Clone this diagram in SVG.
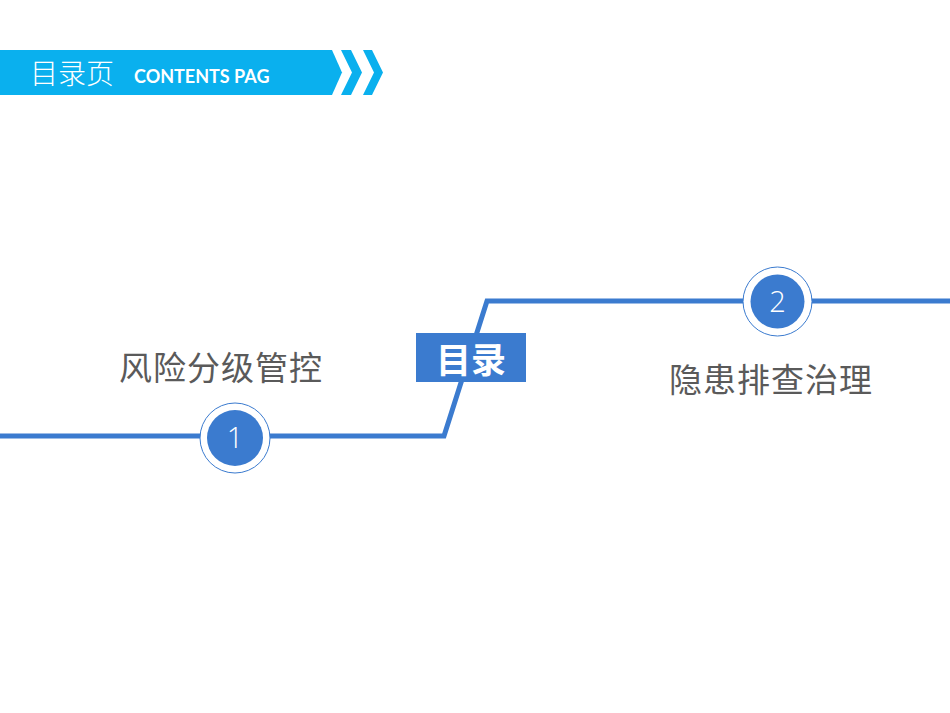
<svg xmlns="http://www.w3.org/2000/svg" width="950" height="713" viewBox="0 0 950 713">
<style>
.ban{fill:#0AB0EE}
.line{fill:none;stroke:#3B7BCF;stroke-width:5;stroke-linejoin:miter}
.ring{fill:#fff;stroke:#3B7BCF;stroke-width:1}
.dot{fill:#3B7BCF}
.num{font-family:"Open Sans","Liberation Sans",sans-serif;font-weight:300;font-size:29px;fill:#fff;text-anchor:middle}
.lab{font-family:"Noto Sans CJK SC","Noto Sans",sans-serif;font-size:33px;fill:#5a5a5a;text-anchor:middle;letter-spacing:1px}
</style>
<rect width="950" height="713" fill="#fff"/>
<g id="header">
<polygon class="ban" points="0,50 332,50 342,72.5 332,95 0,95"/>
<polygon class="ban" points="341,50 351,50 362,72.5 351,95 341,95 352,72.5"/>
<polygon class="ban" points="363,50 372,50 383,72.5 372,95 363,95 374,72.5"/>
<text x="30" y="84" font-family="Noto Sans CJK SC,sans-serif" font-size="28" font-weight="300" fill="#fff">目录页</text>
<text x="134" y="83" font-family="Lato,'Open Sans',sans-serif" font-size="18" font-weight="bold" fill="#fff">CONTENTS PAG</text>
</g>
<g id="connectors">
<polyline class="line" points="0,436 444,436 487,301 950,301"/>
</g>
<g id="title">
<rect x="416" y="333" width="110" height="49" fill="#3B7BCF"/>
<text x="471" y="373" font-family="Noto Sans CJK SC,sans-serif" font-size="35" font-weight="bold" fill="#fff" text-anchor="middle">目录</text>
</g>
<g id="node1">
<circle class="ring" cx="235" cy="438" r="35"/>
<circle class="dot" cx="235" cy="438" r="28"/>
<text class="num" x="235" y="448">1</text>
<text class="lab" x="221" y="380">风险分级管控</text>
</g>
<g id="node2">
<circle class="ring" cx="777.5" cy="301.5" r="34.5"/>
<circle class="dot" cx="777.5" cy="301.5" r="27"/>
<text class="num" x="777.5" y="311.5">2</text>
<text class="lab" x="771" y="392">隐患排查治理</text>
</g>
</svg>
